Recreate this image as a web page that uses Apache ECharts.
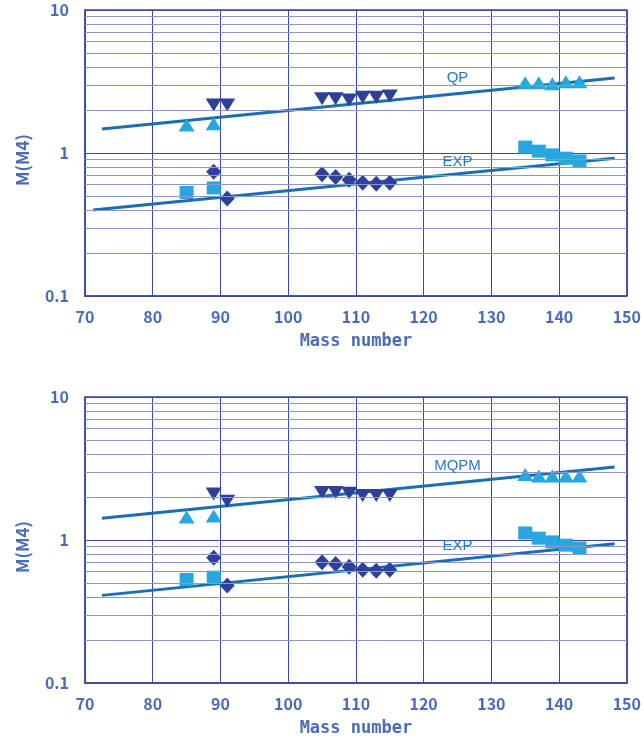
<!DOCTYPE html>
<html><head><meta charset="utf-8">
<script src="https://cdn.jsdelivr.net/npm/echarts@6/dist/echarts.min.js"></script>
<style>html,body{margin:0;padding:0;background:#fff}#c{width:644px;height:740px}</style>
</head><body><div id="c"></div>
<script>
// ---- data ----
const xTicks = [70, 80, 90, 100, 110, 120, 130, 140, 150];
const yTicks = [0.1, 1, 10];
const minorGrid = [0.2, 0.3, 0.4, 0.5, 0.6, 0.7, 0.8, 0.9, 2, 3, 4, 5, 6, 7, 8, 9];

// Top panel (QP)
const topUpTri = [[85, 1.57], [89, 1.6], [135, 3.1], [137, 3.1], [139, 3.05], [141, 3.15], [143, 3.15]];
const topDownTri = [[89, 2.17], [91, 2.17], [105, 2.4], [107, 2.4], [109, 2.35], [111, 2.45], [113, 2.45], [115, 2.5]];
const topDiamond = [[89, 0.74], [91, 0.48], [105, 0.71], [107, 0.68], [109, 0.65], [111, 0.62], [113, 0.61], [115, 0.62]];
const topSquare = [[85, 0.53], [89, 0.57], [135, 1.1], [137, 1.03], [139, 0.97], [141, 0.92], [143, 0.88]];
const topTheoryLine = [[72.5, 1.47], [148.2, 3.34]];
const topExpLine = [[71.2, 0.40], [148.2, 0.92]];
const topLabels = [{name: 'QP', coord: [125, 3.35]}, {name: 'EXP', coord: [125, 0.865]}];

// Bottom panel (MQPM)
const botUpTri = [[85, 1.45], [89, 1.47], [135, 2.87], [137, 2.8], [139, 2.8], [141, 2.8], [143, 2.8]];
const botDownTri = [[89, 2.1], [91, 1.87], [105, 2.15], [107, 2.15], [109, 2.12], [111, 2.05], [113, 2.05], [115, 2.05]];
const botDiamond = [[89, 0.75], [91, 0.48], [105, 0.7], [107, 0.68], [109, 0.65], [111, 0.62], [113, 0.61], [115, 0.62]];
const botSquare = [[85, 0.53], [89, 0.55], [135, 1.12], [137, 1.03], [139, 0.97], [141, 0.92], [143, 0.88]];
const botTheoryLine = [[72.5, 1.42], [148.2, 3.24]];
const botExpLine = [[72.5, 0.41], [148.2, 0.94]];
const botLabels = [{name: 'MQPM', coord: [125, 3.3]}, {name: 'EXP', coord: [125, 0.91]}];

const xName = 'Mass number';
const yName = 'M(M4)';

// ---- styles ----
const DARK = '#2f3f9c', LIGHT = '#27a6e0', LINE = '#1b6db5';
const LABEL = '#4a6cb8', GRID = '#3c4aa0', MINOR = '#8c96c8';

function xAxis(gi) {
  return {
    type: 'value', gridIndex: gi, min: xTicks[0], max: xTicks[xTicks.length - 1], interval: 10,
    name: xName, nameLocation: 'middle', nameGap: 37,
    nameTextStyle: {color: LABEL, fontSize: 17, fontWeight: 'bold', fontFamily: 'DejaVu Sans Mono'},
    axisLine: {show: true, onZero: false, lineStyle: {color: GRID, width: 1.5}},
    axisTick: {show: false},
    axisLabel: {color: LABEL, fontSize: 16, fontWeight: 'bold', fontFamily: 'Noto Sans CJK JP', margin: 13},
    splitLine: {show: true, lineStyle: {color: GRID, width: 1}}
  };
}
function yAxis(gi) {
  return {
    type: 'log', logBase: 10, gridIndex: gi, min: yTicks[0], max: yTicks[yTicks.length - 1],
    name: yName, nameLocation: 'middle', nameGap: 54, nameRotate: 90,
    nameTextStyle: {color: LABEL, fontSize: 17, fontWeight: 'bold', fontFamily: 'Noto Sans CJK JP', padding: [0, 14, 0, 0]},
    axisLine: {show: true, lineStyle: {color: GRID, width: 1.5}},
    axisTick: {show: false},
    axisLabel: {color: LABEL, fontSize: 16, fontWeight: 'bold', fontFamily: 'Noto Sans CJK JP', margin: 16,
      formatter: v => String(+v.toPrecision(3))},
    splitLine: {show: true, lineStyle: {color: GRID, width: 1}}
  };
}
function panelSeries(gi, upTri, downTri, diamond, square, theory, exp, labels) {
  const base = {xAxisIndex: gi, yAxisIndex: gi, silent: true, animation: false};
  return [
    Object.assign({}, base, {
      type: 'line', data: [],
      markLine: {silent: true, symbol: 'none', label: {show: false}, animation: false,
        lineStyle: {color: MINOR, width: 1, type: 'solid'},
        data: minorGrid.map(v => ({yAxis: v}))}
    }),
    Object.assign({}, base, {type: 'line', data: theory, symbol: 'none', z: 3,
      lineStyle: {color: LINE, width: 3},
      markPoint: {symbol: 'circle', symbolSize: 0, animation: false,
        label: {show: true, formatter: p => p.name, color: '#2a78c0', fontSize: 15, fontFamily: 'Liberation Sans', position: 'inside'},
        data: labels}}),
    Object.assign({}, base, {type: 'line', data: exp, symbol: 'none', z: 3, lineStyle: {color: LINE, width: 3}}),
    Object.assign({}, base, {type: 'scatter', data: upTri, symbol: 'triangle', symbolSize: [16, 13], z: 4,
      itemStyle: {color: LIGHT, opacity: 1}}),
    Object.assign({}, base, {type: 'scatter', data: downTri, symbol: 'triangle', symbolRotate: 180, symbolSize: [16, 13], z: 4,
      itemStyle: {color: DARK, opacity: 1}}),
    Object.assign({}, base, {type: 'scatter', data: diamond, symbol: 'diamond', symbolSize: [15, 16], z: 4,
      itemStyle: {color: DARK, opacity: 1}}),
    Object.assign({}, base, {type: 'scatter', data: square, symbol: 'rect', symbolSize: [14, 13], z: 4,
      itemStyle: {color: LIGHT, opacity: 1}})
  ];
}

const chart = echarts.init(document.getElementById('c'), null, {renderer: 'canvas'});
chart.setOption({
  backgroundColor: '#fff',
  animation: false,
  grid: [
    {left: 85, top: 10, width: 545, height: 286, show: true, borderColor: GRID, borderWidth: 1.5},
    {left: 85, top: 397, width: 545, height: 286, show: true, borderColor: GRID, borderWidth: 1.5}
  ],
  xAxis: [xAxis(0), xAxis(1)],
  yAxis: [yAxis(0), yAxis(1)],
  series: [].concat(
    panelSeries(0, topUpTri, topDownTri, topDiamond, topSquare, topTheoryLine, topExpLine, topLabels),
    panelSeries(1, botUpTri, botDownTri, botDiamond, botSquare, botTheoryLine, botExpLine, botLabels)
  )
});
</script></body></html>
